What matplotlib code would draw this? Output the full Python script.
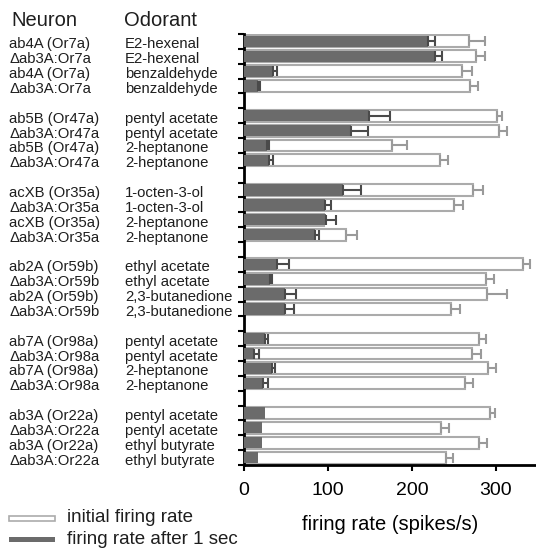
import matplotlib
matplotlib.use("Agg")
import matplotlib.pyplot as plt
from matplotlib.patches import Rectangle
from matplotlib.transforms import blended_transform_factory

plt.rcParams['font.family'] = ['Liberation Sans', 'DejaVu Sans']

# rows top -> bottom, 6 receptor groups of 4
neurons = ["ab4A (Or7a)", "\u0394ab3A:Or7a", "ab4A (Or7a)", "\u0394ab3A:Or7a",
           "ab5B (Or47a)", "\u0394ab3A:Or47a", "ab5B (Or47a)", "\u0394ab3A:Or47a",
           "acXB (Or35a)", "\u0394ab3A:Or35a", "acXB (Or35a)", "\u0394ab3A:Or35a",
           "ab2A (Or59b)", "\u0394ab3A:Or59b", "ab2A (Or59b)", "\u0394ab3A:Or59b",
           "ab7A (Or98a)", "\u0394ab3A:Or98a", "ab7A (Or98a)", "\u0394ab3A:Or98a",
           "ab3A (Or22a)", "\u0394ab3A:Or22a", "ab3A (Or22a)", "\u0394ab3A:Or22a"]
odorants = ["E2-hexenal", "E2-hexenal", "benzaldehyde", "benzaldehyde",
            "pentyl acetate", "pentyl acetate", "2-heptanone", "2-heptanone",
            "1-octen-3-ol", "1-octen-3-ol", "2-heptanone", "2-heptanone",
            "ethyl acetate", "ethyl acetate", "2,3-butanedione", "2,3-butanedione",
            "pentyl acetate", "pentyl acetate", "2-heptanone", "2-heptanone",
            "pentyl acetate", "pentyl acetate", "ethyl butyrate", "ethyl butyrate"]
initial = [268, 276, 259, 269, 301, 303, 176, 233, 273, 250, 95, 121,
           332, 288, 289, 246, 280, 272, 290, 263, 293, 235, 280, 241]
initial_err = [19, 11, 12, 10, 6, 10, 18, 10, 11, 11, 0, 13,
               8, 10, 24, 11, 8, 10, 10, 10, 6, 9, 9, 8]
after = [219, 227, 35, 17, 149, 127, 27, 30, 118, 96, 98, 85,
         39, 31, 49, 49, 25, 12, 33, 23, 25, 22, 21, 17]
after_err = [8, 9, 4, 2, 25, 21, 3, 4, 21, 7, 12, 4,
             14, 2, 13, 11, 4, 6, 4, 6, 0, 0, 0, 0]
xticks = [0, 100, 200, 300]

DARK = "#6b6b6b"
EDGE = "#ababab"
TXT = "#1e1e1e"

W, H = 536, 551
fig = plt.figure(figsize=(W / 100, H / 100), dpi=100)
ax = fig.add_axes([244 / W, 1 - 465 / H, (W - 244) / W, (465 - 34) / H])

# one empty slot between groups
pos = [(i // 4) * 5 + (i % 4) + 0.5 for i in range(len(initial))]
nslots = 29

ax.barh(pos, initial, height=0.8, color="white", edgecolor=EDGE, linewidth=1.5, zorder=2)
ax.barh(pos, after, height=0.76, color=DARK, edgecolor="none", zorder=3)

for p, v, e in zip(pos, initial, initial_err):
    if e > 0:
        ax.errorbar(v, p, xerr=[[0], [e]], fmt="none", ecolor="#9a9a9a",
                    elinewidth=1.5, capsize=3.5, capthick=1.5, zorder=4)
for p, v, e in zip(pos, after, after_err):
    if e > 0:
        ax.errorbar(v, p, xerr=[[0], [e]], fmt="none", ecolor="#4a4a4a",
                    elinewidth=1.5, capsize=3.5, capthick=1.5, zorder=4)

ax.set_xlim(0, (W - 244) / 0.84)
ax.set_ylim(nslots, 0)
ax.set_yticks(range(nslots + 1))
ax.set_yticklabels([])
ax.set_xticks(xticks)
ax.tick_params(axis="y", length=4, width=1.5, direction="out")
ax.tick_params(axis="x", length=4, width=1.5, direction="out", labelsize=14, pad=8)
for s in ["top", "right"]:
    ax.spines[s].set_visible(False)
for s in ["left", "bottom"]:
    ax.spines[s].set_linewidth(2)
ax.set_xlabel("firing rate (spikes/s)", fontsize=14.5, labelpad=12)

# row labels
tr = blended_transform_factory(fig.transFigure, ax.transData)
for p, n, o in zip(pos, neurons, odorants):
    ax.text(9 / W, p + 0.2, n, transform=tr, fontsize=10.7, va="center", ha="left", color=TXT)
    ax.text(125 / W, p + 0.2, o, transform=tr, fontsize=10.7, va="center", ha="left", color=TXT)

fig.text(11 / W, 1 - 20 / H, "Neuron", fontsize=14.5, va="center", ha="left", color=TXT)
fig.text(124 / W, 1 - 20 / H, "Odorant", fontsize=14.5, va="center", ha="left", color=TXT)

# legend
fig.add_artist(Rectangle((9 / W, 1 - 521 / H), 46 / W, 5 / H, transform=fig.transFigure,
                         facecolor="white", edgecolor=EDGE, linewidth=1.2))
fig.add_artist(Rectangle((9 / W, 1 - 542 / H), 46 / W, 5 / H, transform=fig.transFigure,
                         facecolor=DARK, edgecolor="none"))
fig.text(67 / W, 1 - 518 / H, "initial firing rate", fontsize=13.5, va="center", ha="left", color=TXT)
fig.text(67 / W, 1 - 539 / H, "firing rate after 1 sec", fontsize=13.5, va="center", ha="left", color=TXT)

fig.savefig("out.png", dpi=100)
